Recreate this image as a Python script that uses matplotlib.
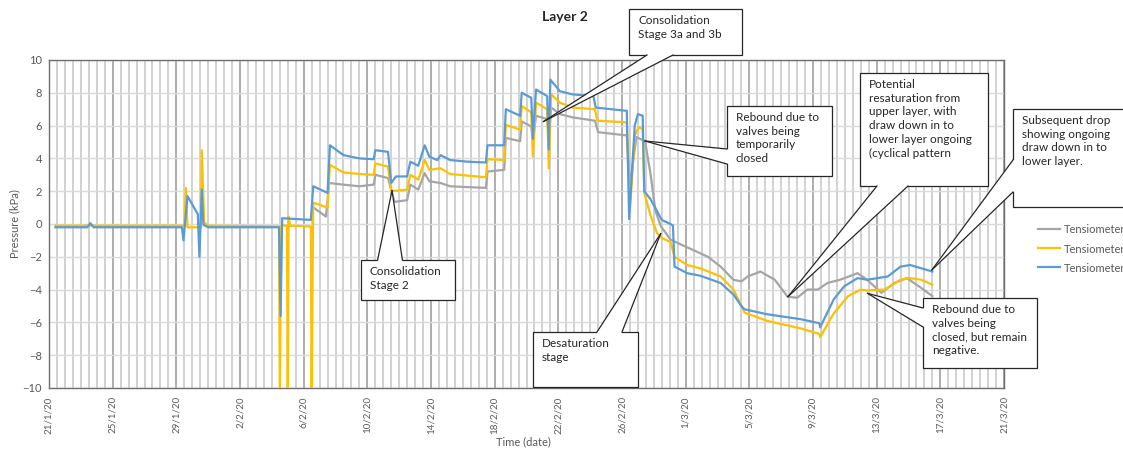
import numpy as np
import pandas as pd
import matplotlib
matplotlib.use("Agg")
import matplotlib.pyplot as plt
import matplotlib.dates as mdates
from matplotlib.patches import Polygon, Rectangle
from matplotlib.lines import Line2D

W, H, DPI = 1123, 457, 100
START = pd.Timestamp("2020-01-21")
END = pd.Timestamp("2020-03-21")

# days since 21/1/20 and pressure in kPa
C_DAY = [16.55, 17.4, 17.6, 18.5, 19.5, 20.4, 20.5, 21.3, 21.7, 22.5, 22.7, 23.2, 23.6, 23.9,
         24.6, 25.2, 27.45, 27.55, 28.6, 28.7, 29.6, 29.7, 30.3, 30.4, 30.6, 31.3, 31.4, 31.55,
         32.1, 32.9, 34.3, 34.5, 36.3, 36.5, 36.9, 37.45, 37.8, 38.1, 38.45, 39.05, 39.7, 40.5,
         41.4, 42.2, 43.0, 43.5, 43.9, 44.7, 45.6, 46.4, 47.0, 47.65, 48.3, 48.9, 49.7, 50.8,
         51.4, 52.3, 53.1, 53.9, 54.8, 55.5]
C_KPA = [1.05, 0.45, 2.5, 2.4, 2.3, 2.4, 3.0, 2.8, 1.35, 1.45, 2.4, 2.1, 3.1, 2.6,
         2.5, 2.3, 2.2, 3.2, 3.3, 5.25, 5.05, 6.25, 5.95, 5.1, 6.6, 6.4, 5.4, 7.1,
         6.7, 6.5, 6.3, 5.6, 5.4, 2.3, 5.3, 5.05, 3.0, 0.8, -0.15, -0.95, -1.25, -1.6,
         -2.0, -2.6, -3.4, -3.5, -3.2, -2.9, -3.4, -4.43, -4.5, -4.0, -4.0, -3.6, -3.4, -3.0,
         -3.4, -4.2, -3.6, -3.3, -3.9, -4.4]

D_DAY = [0.4, 8.5, 8.6, 8.7, 9.55, 9.6, 9.75, 10.0, 14.45, 14.5, 14.6, 14.95, 15.0, 15.05,
         15.15, 16.45, 16.5, 16.6, 17.5, 17.65, 18.5, 19.5, 20.4, 20.5, 21.3, 21.5, 22.5, 22.7,
         23.2, 23.6, 23.9, 24.6, 25.2, 27.45, 27.55, 28.6, 28.7, 29.6, 29.7, 30.3, 30.4, 30.6,
         31.3, 31.4, 31.55, 32.1, 32.9, 34.3, 34.45, 36.3, 36.5, 36.8, 37.05, 37.3, 37.4, 37.8,
         38.2, 38.5, 39.05, 39.3, 40.1, 40.9, 42.2, 43.0, 43.5, 43.7, 45.1, 47.2, 48.4, 48.45,
         49.3, 50.2, 51.0, 51.4, 52.5, 53.5, 54.1, 54.8, 55.5]
D_KPA = [-0.1, -0.1, 2.2, -0.2, -0.2, 4.5, 0.1, -0.1, -0.15, -10.5, -0.1, -0.1, -10.5, 0.45,
         -0.1, -0.15, -10.5, 1.3, 1.0, 3.6, 3.15, 3.05, 3.0, 3.7, 3.5, 2.0, 2.1, 3.0,
         2.7, 3.9, 3.3, 3.4, 3.05, 2.85, 3.95, 3.9, 6.05, 5.75, 7.2, 6.8, 4.1, 7.4,
         7.0, 3.4, 7.9, 7.4, 7.1, 7.0, 6.3, 6.2, 0.9, 5.4, 5.9, 5.8, 1.9, 0.5,
         -0.55, -0.85, -1.1, -2.0, -2.5, -2.7, -3.2, -4.0, -5.0, -5.4, -5.9, -6.36, -6.7, -6.9,
         -5.45, -4.4, -4.0, -4.05, -4.0, -3.4, -3.3, -3.4, -3.7]

E_DAY = [0.4, 2.4, 2.6, 2.8, 8.35, 8.45, 8.7, 9.35, 9.45, 9.6, 9.7, 10.0, 14.45, 14.55,
         14.65, 16.45, 16.6, 17.5, 17.65, 18.5, 19.5, 20.4, 20.5, 21.3, 21.5, 21.8, 22.5, 22.7,
         23.2, 23.6, 23.9, 24.4, 24.6, 25.2, 26.3, 27.45, 27.55, 28.6, 28.7, 29.6, 29.7, 30.3,
         30.4, 30.6, 31.3, 31.4, 31.5, 32.1, 32.9, 34.2, 34.35, 35.3, 36.3, 36.45, 36.8, 37.0,
         37.3, 37.4, 37.8, 38.3, 38.5, 39.05, 39.2, 39.3, 40.1, 40.9, 42.2, 43.0, 43.5, 43.7,
         45.1, 47.2, 48.4, 48.45, 49.3, 49.96, 50.8, 51.4, 52.7, 53.5, 54.1, 54.8, 55.5]
E_KPA = [-0.2, -0.2, 0.05, -0.2, -0.2, -1.0, 1.7, 0.6, -2.0, 2.1, -0.05, -0.2, -0.2, -5.6,
         0.35, 0.25, 2.3, 1.9, 4.8, 4.2, 4.0, 3.95, 4.5, 4.4, 2.5, 2.9, 2.9, 3.8,
         3.55, 4.8, 4.1, 3.9, 4.2, 3.9, 3.8, 3.75, 4.8, 4.8, 7.0, 6.6, 8.0, 7.7,
         5.2, 8.2, 7.8, 4.55, 8.8, 8.1, 7.9, 7.8, 7.1, 7.0, 6.9, 0.3, 6.0, 6.7,
         6.6, 2.0, 1.5, 0.6, 0.25, 0.0, -0.1, -2.6, -3.0, -3.15, -3.6, -4.3, -5.0, -5.2,
         -5.5, -5.8, -6.05, -6.3, -4.6, -3.8, -3.3, -3.4, -3.2, -2.6, -2.5, -2.7, -2.9]

SERIES_NAMES = ["Tensiometer_C", "Tensiometer_D", "Tensiometer_E"]

CALLOUT_TEXT = [
    "Consolidation\nStage 3a and 3b",
    "Consolidation\nStage 2",
    "Rebound due to\nvalves being\ntemporarily\nclosed",
    "Desaturation\nstage",
    "Potential\nresaturation from\nupper layer, with\ndraw down in to\nlower layer ongoing\n(cyclical pattern",
    "Subsequent drop\nshowing ongoing\ndraw down in to\nlower layer.",
    "Rebound due to\nvalves being\nclosed, but remain\nnegative.",
]
CALLOUT_TIP_DAY = [31.07, 21.55, 37.45, 38.43, 46.43, 55.47, 51.43]
CALLOUT_TIP_KPA = [6.25, 2.04, 5.06, -0.59, -4.43, -2.8, -4.23]

# callout layout, in image pixels from top-left: box and the edge the pointer leaves from
BOXES = [(629, 9, 742, 55), (361, 260, 455, 300), (727, 106, 832, 176), (533, 332, 638, 387),
         (860, 73, 988, 186), (1013, 109, 1140, 207), (923, 298, 1037, 368)]
BASES = [("bottom", 647, 673), ("top", 377.6, 402.4), ("left", 149, 164), ("top", 597, 622),
         ("bottom", 877, 908), ("left", 160, 192), ("left", 308, 327)]

COLORS = ["#A5A5A5", "#FFC000", "#5B9BD5"]
TEXT_GREY = "#595959"
FONT = "Lato"


def to_dates(days):
    return [(START + pd.Timedelta(days=d)).to_pydatetime() for d in days]


def fxy(px, py):
    # image pixels (top-left origin) -> figure fraction
    return px / W, 1 - py / H


plt.rcParams["font.family"] = [FONT, "DejaVu Sans"]

fig = plt.figure(figsize=(W / DPI, H / DPI), dpi=DPI)
ax = fig.add_axes([49 / W, 1 - 388 / H, (1004 - 49) / W, (388 - 60) / H])

handles = []
for days, kpa, name, col in zip([C_DAY, D_DAY, E_DAY], [C_KPA, D_KPA, E_KPA], SERIES_NAMES, COLORS):
    ln, = ax.plot(to_dates(days), kpa, color=col, lw=1.6, label=name, zorder=3)
    handles.append(ln)

ax.set_xlim(START.to_pydatetime(), END.to_pydatetime())
ax.set_ylim(-10, 10)
ax.set_yticks(np.arange(-10, 11, 2))

major = pd.date_range(START, END, freq="4D")
minor = pd.date_range(START, END, freq="12h")
ax.set_xticks(major.to_pydatetime())
ax.set_xticks(minor.to_pydatetime(), minor=True)
ax.set_xticklabels([f"{d.day}/{d.month}/20" for d in major], rotation=90)

ax.grid(axis="x", which="minor", color="#C9C9C9", lw=1.2, zorder=0)
ax.grid(axis="x", which="major", color="#A0A0A0", lw=1.2, zorder=0)
ax.grid(axis="y", which="major", color="#DADADA", lw=1.0, zorder=0)
ax.set_axisbelow(True)

ax.tick_params(axis="both", which="both", length=0, labelcolor=TEXT_GREY)
ax.tick_params(axis="y", pad=5, labelsize=8)
ax.tick_params(axis="x", pad=6, labelsize=7)
for sp in ax.spines.values():
    sp.set_color("#6E6E6E")
    sp.set_linewidth(1.0)

fig.text(*fxy(15, 224), "Pressure (kPa)", rotation=90, ha="center", va="center",
         fontsize=8, color=TEXT_GREY)
fig.text(*fxy(523, 442), "Time (date)", ha="center", va="center", fontsize=8, color=TEXT_GREY)
fig.text(*fxy(565, 17), "Layer 2", ha="center", va="center", fontsize=10,
         fontweight="bold", color="#262626")

# legend sits partly past the right edge, as in the source chart
fig.legend(handles=handles, loc="upper left", bbox_to_anchor=fxy(1038, 223.5),
           frameon=False, fontsize=8, handlelength=2.0, handletextpad=0.3,
           labelspacing=0.75, borderpad=0, borderaxespad=0, labelcolor=TEXT_GREY)

# callouts with wedge pointers
fig_inv = fig.transFigure.inverted()
edge = "#262626"
for text, tday, tkpa, box, base in zip(CALLOUT_TEXT, CALLOUT_TIP_DAY, CALLOUT_TIP_KPA, BOXES, BASES):
    x0, y0, x1, y1 = box
    tip_num = mdates.date2num((START + pd.Timedelta(days=tday)).to_pydatetime())
    tip = fig_inv.transform(ax.transData.transform((tip_num, tkpa)))

    side, a, b = base
    if side == "left":
        p1, p2, inward = (x0, a), (x0, b), (2.5, 0)
    elif side == "right":
        p1, p2, inward = (x1, a), (x1, b), (-2.5, 0)
    elif side == "top":
        p1, p2, inward = (a, y0), (b, y0), (0, 2.5)
    else:
        p1, p2, inward = (a, y1), (b, y1), (0, -2.5)
    p1i = (p1[0] + inward[0], p1[1] + inward[1])
    p2i = (p2[0] + inward[0], p2[1] + inward[1])

    fig.add_artist(Rectangle(fxy(x0, y1), (x1 - x0) / W, (y1 - y0) / H, transform=fig.transFigure,
                             facecolor="white", edgecolor=edge, lw=0.9, zorder=5))
    fig.add_artist(Polygon([fxy(*p1i), fxy(*p1), tuple(tip), fxy(*p2), fxy(*p2i)],
                           closed=True, transform=fig.transFigure, facecolor="white",
                           edgecolor="none", zorder=6))
    for p in (p1, p2):
        q = fxy(*p)
        fig.add_artist(Line2D([q[0], tip[0]], [q[1], tip[1]], transform=fig.transFigure,
                              color=edge, lw=0.9, zorder=6))
    fig.text(*fxy(x0 + 9, y0 + 6), text, ha="left", va="top", fontsize=8.5,
             linespacing=1.3, color="#262626", zorder=7)

fig.savefig("out.png", dpi=DPI)
